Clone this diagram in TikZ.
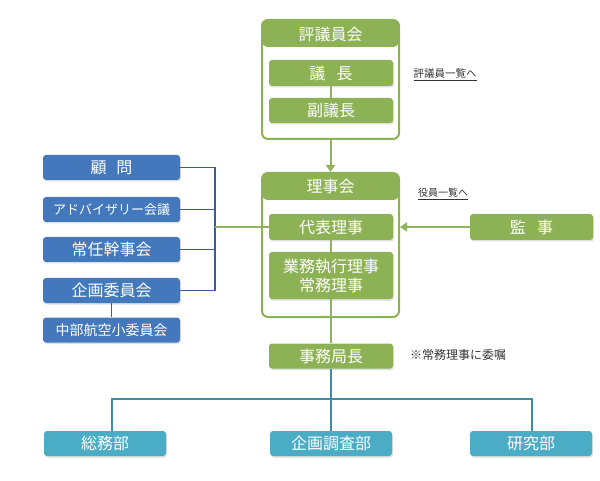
\documentclass[tikz,border=0pt]{standalone}
\usepackage{fontspec}
\setmainfont{Noto Sans CJK JP}
\usetikzlibrary{shadows,arrows.meta}
\definecolor{grn}{HTML}{8DB255}
\definecolor{gline}{HTML}{92B35E}
\definecolor{blu}{HTML}{4379BC}
\definecolor{bline}{HTML}{3A5E92}
\definecolor{tea}{HTML}{4BACC6}
\definecolor{tline}{HTML}{3B8DA8}
\definecolor{lnk}{HTML}{333333}
\begin{document}
\begin{tikzpicture}[x=1pt,y=-1pt,
  gbox/.style={fill=grn, text=white, rounded corners=3pt, minimum width=124pt, minimum height=26pt, inner sep=0pt,
    font=\fontsize{16}{18}\selectfont, drop shadow={opacity=0.25, shadow xshift=1pt, shadow yshift=-1.5pt}},
  bbox/.style={gbox, fill=blu, minimum width=137pt, minimum height=25pt},
  tbox/.style={gbox, fill=tea, minimum width=122pt, minimum height=25pt},
  outerbox/.style={draw=grn, line width=2pt, fill=white, rounded corners=6pt, minimum width=137pt, inner sep=0pt,
    path picture={\fill[grn] (path picture bounding box.north west) rectangle ([yshift=-27pt]path picture bounding box.north east);}},
  titletext/.style={text=white, inner sep=0pt, font=\fontsize{16}{18}\selectfont},
  linktext/.style={text=lnk, inner sep=0pt, font=\fontsize{10}{12}\selectfont},
  gconn/.style={draw=gline, line width=2pt},
  bconn/.style={draw=bline, line width=1.6pt},
  tconn/.style={draw=tline, line width=2pt},
  garrow/.style={gconn, -{Triangle[length=7pt,width=9pt]}}
]
\useasboundingbox (0,0) rectangle (600,481);

% outer groups
\node[outerbox, minimum height=119pt] (hyo) at (330.5,79.5) {};
\node[titletext] (hyot) at (330.5,34) {評議員会};
\node[outerbox, minimum height=144pt] (riji) at (330.5,245) {};
\node[titletext] (rijit) at (330.5,186) {理事会};

% green boxes
\node[gbox] (gicho) at (331,73) {議\hspace{0.7em}長};
\node[gbox, minimum height=25pt] (fuku) at (331,110.5) {副議長};
\node[gbox] (daihyo) at (331,227) {代表理事};
\node[gbox, minimum height=47pt, align=center, font=\fontsize{16}{19}\selectfont] (gyomu) at (331,275.5) {業務執行理事\\常務理事};
\node[gbox, minimum height=25pt] (jimu) at (331,356) {事務局長};
\node[gbox, minimum width=123pt] (kanji) at (531.5,227) {監\hspace{0.7em}事};

% links and note
\node[linktext, font=\fontsize{10.5}{12}\selectfont] (l1) at (445,75) {\underline{評議員一覧へ}};
\node[linktext] (l2) at (443,194) {\underline{役員一覧へ}};
\node[text=lnk, inner sep=0pt, font=\fontsize{12}{14}\selectfont] (note) at (458,355) {※常務理事に委嘱};

% blue boxes
\node[bbox] (komon) at (111.5,167.5) {顧\hspace{0.6em}問};
\node[bbox, font=\fontsize{13}{15}\selectfont] (adv) at (111.5,209.5) {アドバイザリー会議};
\node[bbox] (jonin) at (111.5,249.5) {常任幹事会};
\node[bbox] (kikaku) at (111.5,290.5) {企画委員会};
\node[bbox, font=\fontsize{14}{16}\selectfont] (chubu) at (111.5,330) {中部航空小委員会};

% teal boxes
\node[tbox] (somu) at (105,443.5) {総務部};
\node[tbox] (chosa) at (331,443.5) {企画調査部};
\node[tbox] (kenkyu) at (531,443.5) {研究部};

% connectors
\draw[gconn] (gicho) -- (fuku);
\draw[garrow] (hyo.south) -- (riji.north);
\draw[gconn] (daihyo) -- (gyomu);
\draw[gconn] (gyomu.south) -- (jimu.north);
\draw[garrow] (kanji.west) -- (kanji.west -| riji.east);

\coordinate (bt) at (215,167.5);
\coordinate (bb) at (215,290.5);
\draw[bconn] (komon.east) -- (bt) -- (bb) -- (kikaku.east);
\draw[bconn] (adv.east) -- (adv.east -| bt);
\draw[bconn] (jonin.east) -- (jonin.east -| bt);
\draw[bconn] (kikaku.south) -- (chubu.north);
\draw[gconn] (daihyo.west -| bt) -- (daihyo.west);

\coordinate (hb) at (331,399);
\coordinate (tl) at (112,399);
\coordinate (tr) at (532,399);
\draw[tconn] (jimu.south) -- (hb);
\draw[tconn] (somu.north -| tl) -- (tl) -- (tr) -- (kenkyu.north -| tr);
\draw[tconn] (hb) -- (chosa.north);
\end{tikzpicture}
\end{document}
